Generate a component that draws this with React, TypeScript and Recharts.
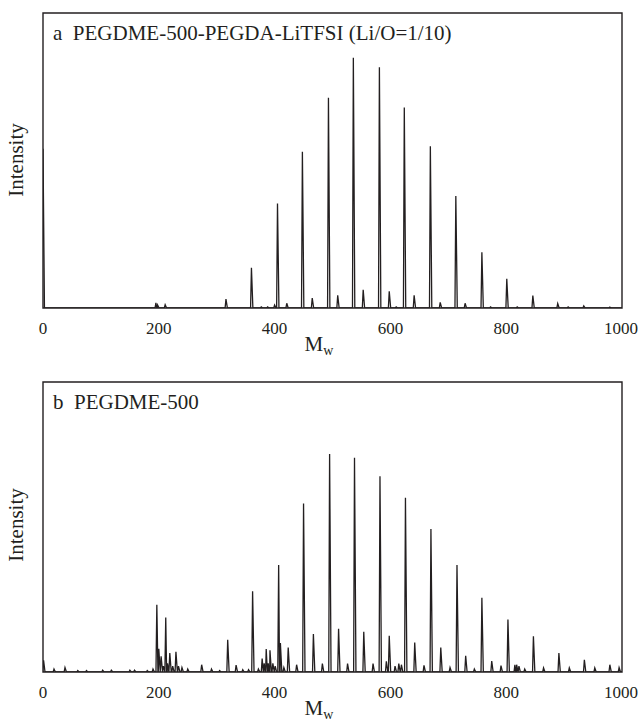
import React from "react";
import { LineChart, Line, XAxis, YAxis, ReferenceArea } from "recharts";

const xTicks = [0, 200, 400, 600, 800, 1000];

// panel a: PEGDME-500-PEGDA-LiTFSI (Li/O=1/10)
const massA = [0, 195, 198, 211, 316, 360, 377, 388, 400, 405, 421, 448, 465, 493, 509, 536, 553, 581, 598, 610, 624, 641, 669, 686, 713, 729, 758, 773, 801, 819, 846, 889, 907, 934, 979];
const intA = [54, 1.7, 1, 1.1, 3, 13.6, 0.4, 0.4, 1, 35.4, 1.6, 53, 3.4, 71.3, 4.3, 84.8, 6.2, 81.6, 5.7, 0.4, 68, 4.3, 54.8, 1.9, 38, 1.6, 18.9, 0.4, 9.9, 0.4, 4.2, 1.5, 0.4, 0.7, 0.3];

// panel b: PEGDME-500
const massB = [1, 19, 38, 60, 75, 103, 118, 150, 158, 180, 190, 196.6, 200, 204, 208, 212, 215, 219, 224, 229.6, 234, 240, 250, 274, 291, 305, 319, 333.5, 345, 355, 362, 372, 378.5, 382, 385.5, 389, 392, 397, 401, 407, 410, 416, 423.5, 438, 450, 467, 482.5, 495, 510.5, 526, 538, 554, 570, 582, 593, 598, 608, 614.5, 619, 626, 642, 658, 670, 687, 703, 715, 730, 745, 758, 775, 791, 803, 815, 818, 822, 832, 847, 864.5, 891, 909, 935, 953, 979, 995];
const intB = [4, 1, 1.5, 0.5, 0.5, 0.6, 0.6, 0.6, 0.6, 0.5, 1, 23.2, 8, 5.4, 2, 18.8, 3, 6.5, 2, 7, 2, 1.5, 1, 2.5, 1, 0.5, 11.1, 2.4, 0.8, 0.8, 27.8, 1, 4.6, 3, 7.9, 3, 7.5, 3, 2, 36.9, 10, 1.5, 8.4, 2.5, 58.1, 13.1, 2.9, 75.2, 14.9, 2.9, 73.9, 13.9, 2.9, 67.5, 3.7, 12.5, 2, 2.9, 2.5, 60.1, 10.2, 2.3, 49.3, 8.4, 1.5, 36.9, 5.6, 1, 25.6, 3.8, 2.2, 18.1, 2.5, 2.5, 2, 1, 12.3, 1.4, 6.5, 1.4, 4.2, 1.4, 2.5, 1.5];

const INK = "#231f20";
const FONT = "'Liberation Serif', 'Times New Roman', serif";

// each peak drawn as a narrow spike on the baseline
function spectrum(mass: number[], inten: number[]) {
  const pts: { m: number; v: number }[] = [];
  mass.forEach((m, i) => {
    pts.push({ m: m - 1.5, v: 0 });
    pts.push({ m, v: inten[i] });
    pts.push({ m: m + 2.5, v: 0 });
  });
  pts.push({ m: -5, v: 0 }, { m: 1005, v: 0 });
  return pts.sort((a, b) => a.m - b.m);
}

const dataA = spectrum(massA, intA);
const dataB = spectrum(massB, intB);

function Panel({ data, height, top, axisH }: { data: any[]; height: number; top: number; axisH: number }) {
  return (
    <LineChart width={638} height={height} data={data} margin={{ top, right: 16, left: 43, bottom: 0 }}>
      <XAxis dataKey="m" type="number" domain={[0, 1000]} ticks={xTicks} allowDataOverflow
        height={axisH} axisLine={false} tickLine={false} tickSize={0} tickMargin={14}
        tick={{ fontSize: 17, fill: INK, fontFamily: FONT }} />
      <YAxis hide domain={[0, 100]} allowDataOverflow />
      <Line type="linear" dataKey="v" stroke={INK} strokeWidth={1.3} dot={false} isAnimationActive={false} />
      <ReferenceArea x1={0} x2={1000} y1={0} y2={100} fill="none" stroke={INK} strokeWidth={1.4} fillOpacity={0} />
    </LineChart>
  );
}

const txt: React.CSSProperties = { position: "absolute", fontFamily: FONT, fontSize: 21, color: INK, whiteSpace: "pre", lineHeight: 1 };

function Mw({ top }: { top: number }) {
  return (
    <div style={{ ...txt, left: 319, top, transform: "translateX(-50%)" }}>
      M<sub style={{ fontSize: 14, verticalAlign: "-0.3em" }}>w</sub>
    </div>
  );
}

function Intensity({ cy }: { cy: number }) {
  return (
    <div style={{ ...txt, left: 16, top: cy, transform: "translate(-50%, -50%) rotate(-90deg)" }}>Intensity</div>
  );
}

export default function App() {
  return (
    <div style={{ position: "absolute", left: 0, top: 0, width: 638, height: 722, background: "#fff" }}>
      <div style={{ position: "absolute", left: 0, top: 0 }}>
        <Panel data={dataA} height={360} top={13} axisH={52} />
      </div>
      <div style={{ position: "absolute", left: 0, top: 370 }}>
        <Panel data={dataB} height={352} top={12} axisH={50} />
      </div>
      <div style={{ ...txt, left: 53, top: 23 }}>a  PEGDME-500-PEGDA-LiTFSI (Li/O=1/10)</div>
      <div style={{ ...txt, left: 53, top: 392 }}>b  PEGDME-500</div>
      <Intensity cy={160} />
      <Intensity cy={525} />
      <Mw top={334} />
      <Mw top={698} />
    </div>
  );
}
